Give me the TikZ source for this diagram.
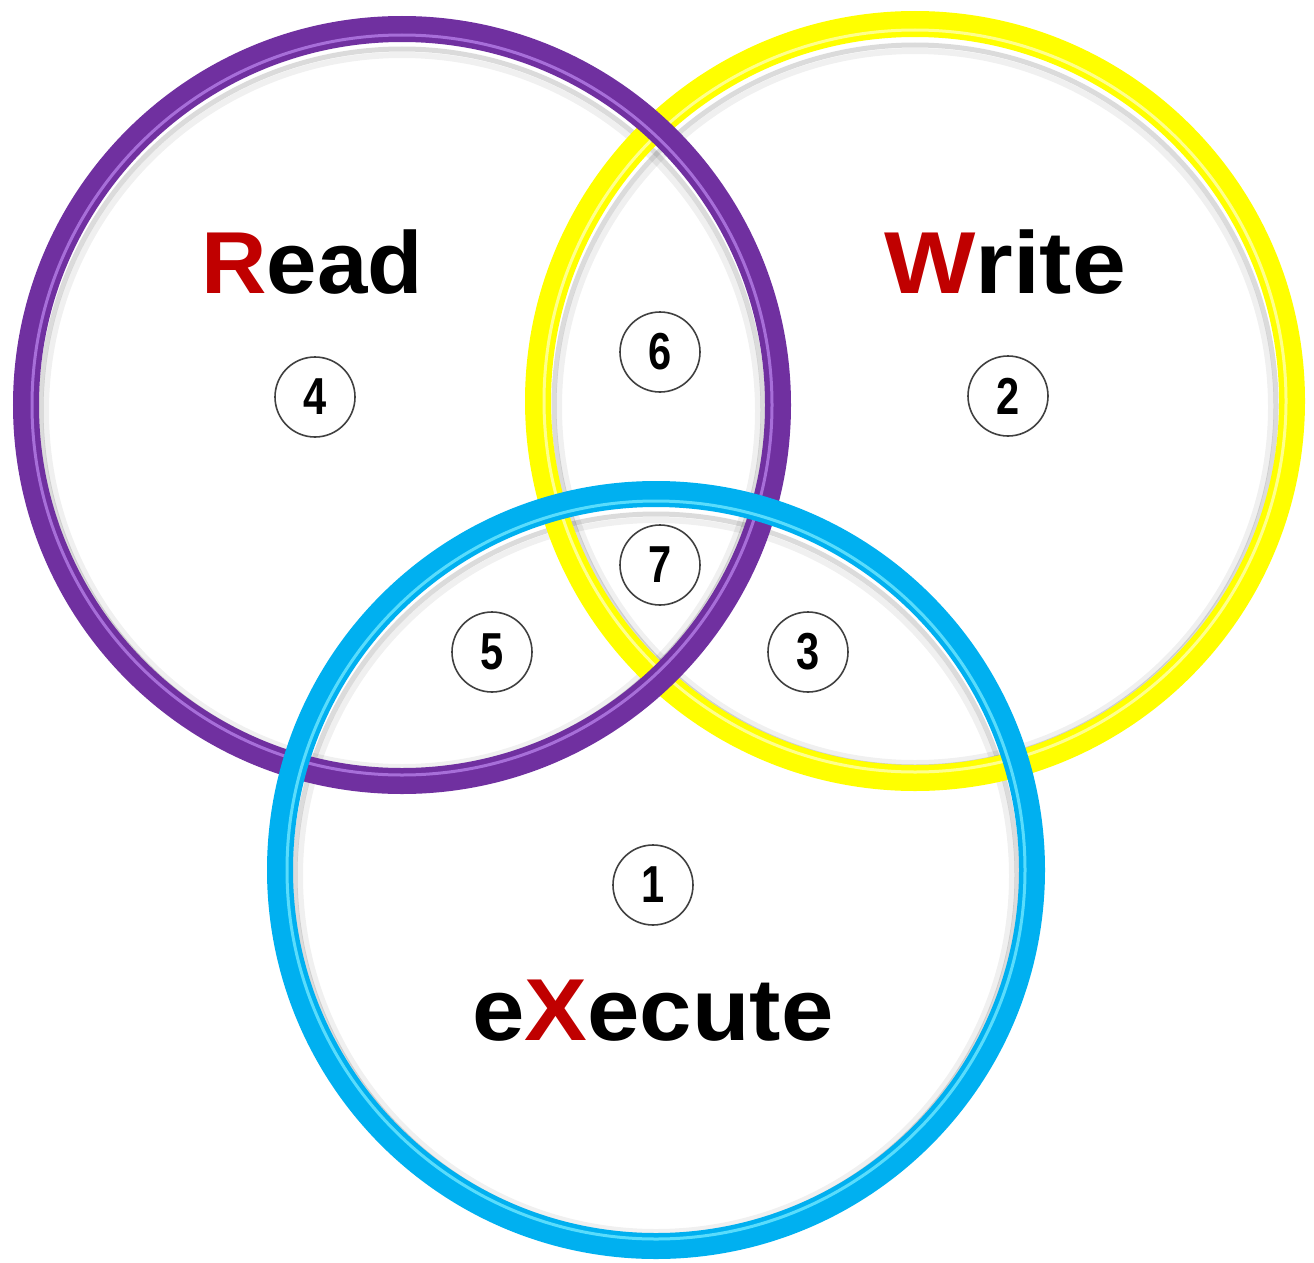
\documentclass[tikz,border=0pt]{standalone}
\usepackage{fontspec}
\setmainfont{Liberation Sans}
\definecolor{rpurple}{HTML}{7030A0}
\definecolor{rpurplehi}{HTML}{B57EE8}
\definecolor{ryellow}{HTML}{FFFF00}
\definecolor{ryellowhi}{HTML}{FFFFB0}
\definecolor{rcyan}{HTML}{00B0F0}
\definecolor{rcyanhi}{HTML}{70E8FF}
\definecolor{rred}{HTML}{C00000}
\tikzset{
  shadowa/.style={draw=black, opacity=0.14, line width=5pt},
  shadowb/.style={draw=black, opacity=0.06, line width=6pt},
  ringband/.style={line width=26pt},
  ringhi/.style={line width=3pt, opacity=0.8},
  numbox/.style={draw=black!75, line width=1.6pt, ellipse, minimum width=80pt, minimum height=80pt, inner sep=0pt,
    font=\fontsize{52}{52}\selectfont\bfseries},
  biglabel/.style={font=\fontsize{88}{88}\selectfont\bfseries, inner sep=0pt, anchor=base}
}
\usetikzlibrary{shapes.geometric}
\begin{document}
\begin{tikzpicture}[x=1pt,y=-1pt]
\useasboundingbox (0,0) rectangle (1314,1263);
\fill[white] (0,0) rectangle (1314,1263);
\coordinate (cw) at (915,401);
\coordinate (cr) at (402,405);
\coordinate (cx) at (656,870);
% soft inner shadows
\foreach \c in {cw,cr,cx}{
  \draw[shadowa] (\c) ++(0,5) circle[radius=361pt];
  \draw[shadowb] (\c) ++(0,6) circle[radius=356pt];
}
% yellow ring (Write)
\draw[ringband, draw=ryellow] (cw) circle[radius=377pt];
\draw[ringhi, draw=ryellowhi] (cw) circle[radius=371pt];
% purple ring (Read)
\draw[ringband, draw=rpurple] (cr) circle[radius=376pt];
\draw[ringhi, draw=rpurplehi] (cr) circle[radius=370pt];
% cyan ring (eXecute)
\draw[ringband, draw=rcyan] (cx) circle[radius=376pt];
\draw[ringhi, draw=rcyanhi] (cx) circle[radius=369pt];
% labels
\node[biglabel] (read) at (312,293) {\scalebox{1.03}[1]{\textcolor{rred}{R}ead}};
\node[biglabel] (write) at (1005,293) {\scalebox{1.1}[1]{\textcolor{rred}{W}rite}};
\node[biglabel] (exec) at (653,1040) {\scalebox{1.07}[1]{e\textcolor{rred}{X}ecute}};
% numbers
\node[numbox] (n4) at (315,397) {\scalebox{0.8}[1]{4}};
\node[numbox] (n6) at (660,352) {\scalebox{0.8}[1]{6}};
\node[numbox] (n2) at (1008,396) {\scalebox{0.8}[1]{2}};
\node[numbox] (n7) at (660,565) {\scalebox{0.8}[1]{7}};
\node[numbox] (n5) at (492,652) {\scalebox{0.8}[1]{5}};
\node[numbox] (n3) at (808,652) {\scalebox{0.8}[1]{3}};
\node[numbox] (n1) at (653,885) {\scalebox{0.8}[1]{1}};
\end{tikzpicture}
\end{document}
